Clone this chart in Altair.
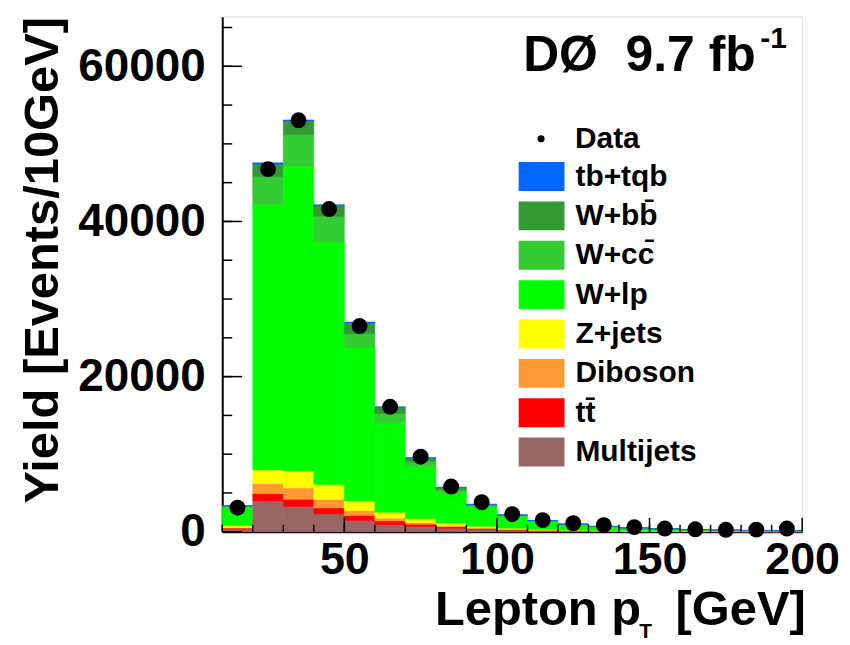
import altair as alt
import pandas as pd

# ---------------- data ----------------
bin_lo = list(range(10, 200, 10))
bin_width = 10

processes = ["tb+tqb", "W+bb\u0304", "W+cc\u0304", "W+lp", "Z+jets", "Diboson", "tt\u0304", "Multijets"]
colors = ["#0066ff", "#339933", "#33cc33", "#00ff00", "#ffff00", "#ff9933", "#ff0000", "#996666"]

multijets = [350, 3980, 3260, 2310, 1450, 900, 680, 450, 300, 200, 130, 90, 60, 45, 35, 25, 20, 15, 12]
ttbar     = [120, 940, 940, 770, 650, 510, 300, 200, 130, 90, 60, 40, 30, 22, 16, 12, 10, 8, 6]
diboson   = [80, 1290, 1460, 1080, 640, 350, 200, 130, 80, 50, 35, 25, 20, 15, 12, 9, 7, 5, 4]
zjets     = [250, 1760, 2180, 1920, 1240, 770, 490, 320, 200, 130, 85, 60, 40, 30, 22, 17, 13, 10, 8]
wlp       = [2350, 34230, 39290, 31280, 19840, 11520, 6720, 3950, 2450, 1500, 1000, 690, 485, 345, 263, 195, 153, 119, 99]
wcc       = [120, 3560, 4070, 3300, 1720, 1200, 650, 390, 230, 130, 85, 55, 40, 27, 20, 14, 11, 8, 7]
wbb       = [60, 1640, 1730, 1370, 1360, 800, 470, 270, 140, 80, 50, 35, 22, 14, 10, 7, 5, 4, 3]
tbtqb     = [30, 160, 150, 130, 130, 60, 40, 30, 20, 10, 5, 5, 3, 2, 2, 1, 1, 1, 1]

data_counts = [3100, 46740, 53040, 41600, 26520, 16110, 9680, 5830, 3810, 2270,
               1500, 1100, 850, 600, 420, 320, 260, 280, 420]

y_major = [0, 20000, 40000, 60000]
y_minor = list(range(5000, 66000, 5000))
x_major = [50, 100, 150, 200]
x_minor = list(range(10, 200, 10))

# ---------------- tables ----------------
stack_bottom_up = [
    ("Multijets", multijets), ("tt\u0304", ttbar), ("Diboson", diboson), ("Z+jets", zjets),
    ("W+lp", wlp), ("W+cc\u0304", wcc), ("W+bb\u0304", wbb), ("tb+tqb", tbtqb),
]
rows = []
for i, lo in enumerate(bin_lo):
    base = 0
    for name, vals in stack_bottom_up:
        rows.append(dict(lo=lo, hi=lo + bin_width, process=name, y0=base, y1=base + vals[i]))
        base += vals[i]
bars_df = pd.DataFrame(rows)

pts_df = pd.DataFrame({"center": [b + bin_width / 2 for b in bin_lo], "count": data_counts, "label": "Data"})

W, H = 582, 517
FONT = "Liberation Sans"

xscale = alt.Scale(domain=[10, 200], nice=False, zero=False)
yscale = alt.Scale(domain=[0, 66400], nice=False, zero=True)

x_axis = alt.Axis(values=x_major, format="d", ticks=False, tickSize=0, labelFontSize=45,
                  labelFont=FONT, labelFontWeight="bold", labelPadding=6, labelColor="black",
                  grid=False, domainColor="black", domainWidth=2, title=None, labelFlush=False)
y_axis = alt.Axis(values=y_major, format="d", ticks=False, tickSize=0, labelFontSize=46,
                  labelFont=FONT, labelFontWeight="bold", labelPadding=17, labelColor="black",
                  grid=False, domainColor="black", domainWidth=2, title=None)

rect_path = "M-1.586,-1L1.586,-1L1.586,1L-1.586,1Z"

bars = alt.Chart(bars_df).mark_rect(strokeWidth=0.6).encode(
    x=alt.X("lo:Q", scale=xscale, axis=x_axis),
    x2="hi:Q",
    y=alt.Y("y0:Q", scale=yscale, axis=y_axis),
    y2="y1:Q",
    color=alt.Color("process:N", scale=alt.Scale(domain=processes, range=colors),
                    legend=alt.Legend(orient="none", legendX=305.5, legendY=145.5, title=None,
                                      symbolType=rect_path, symbolSize=841, symbolStrokeWidth=0,
                                      symbolOpacity=1, labelFontSize=30, labelFont=FONT,
                                      labelFontWeight="bold", labelColor="black", labelOffset=19,
                                      rowPadding=9.5, padding=0, labelLimit=300)),
    stroke=alt.Stroke("process:N", scale=alt.Scale(domain=processes, range=colors), legend=None),
)

ymaj = alt.Chart(pd.DataFrame({"v": y_major})).mark_rule(color="black", strokeWidth=1.5).encode(
    y=alt.Y("v:Q", scale=yscale, axis=y_axis), x=alt.value(0), x2=alt.value(20))
ymin = alt.Chart(pd.DataFrame({"v": y_minor})).mark_rule(color="black", strokeWidth=1.5).encode(
    y=alt.Y("v:Q", scale=yscale, axis=y_axis), x=alt.value(0), x2=alt.value(10))
xmaj = alt.Chart(pd.DataFrame({"v": x_major})).mark_rule(color="black", strokeWidth=1.5).encode(
    x=alt.X("v:Q", scale=xscale, axis=x_axis), y=alt.value(H), y2=alt.value(H - 14))
xmin = alt.Chart(pd.DataFrame({"v": x_minor})).mark_rule(color="black", strokeWidth=1.5).encode(
    x=alt.X("v:Q", scale=xscale, axis=x_axis), y=alt.value(H), y2=alt.value(H - 7))

points = alt.Chart(pts_df).mark_point(filled=True, size=255, color="black", opacity=1).encode(
    x=alt.X("center:Q", scale=xscale, axis=x_axis),
    y=alt.Y("count:Q", scale=yscale, axis=y_axis),
    shape=alt.Shape("label:N", scale=alt.Scale(domain=["Data"], range=["circle"]),
                    legend=alt.Legend(orient="none", legendX=305, legendY=107.5, title=None,
                                      symbolSize=50, symbolFillColor="black", symbolStrokeWidth=0,
                                      labelFontSize=30, labelFont=FONT, labelFontWeight="bold",
                                      labelColor="black", labelOffset=19, padding=0)),
)

def label(txt, x, y, size, align="left", angle=0):
    return alt.Chart(pd.DataFrame({"t": [txt]})).mark_text(
        font=FONT, fontSize=size, fontWeight="bold", color="black", align=align,
        baseline="alphabetic", angle=angle).encode(text="t:N", x=alt.value(x), y=alt.value(y))

texts = [
    label("D\u00d8\u00a0\u00a09.7 fb", 302, 54.5, 50),
    label("-1", 540, 31, 30),
    label("Lepton p", 213.5, 610.5, 49),
    label("T", 418.5, 623.5, 21),
    label("[GeV]", 455, 610.5, 49),
    label("Yield [Events/10GeV]", -165, 244.5, 49, align="center", angle=270),
]

chart = alt.layer(bars, xmin, xmaj, ymin, ymaj, points, *texts).properties(
    width=W, height=H,
    padding={"left": 215, "top": 7.5, "right": 40, "bottom": 125},
    autosize=alt.AutoSizeParams(type="none"),
).configure_view(stroke="#666666", strokeWidth=1.5).configure(background="white")

chart.save("out.html", embed_options={"renderer": "svg", "actions": False})
